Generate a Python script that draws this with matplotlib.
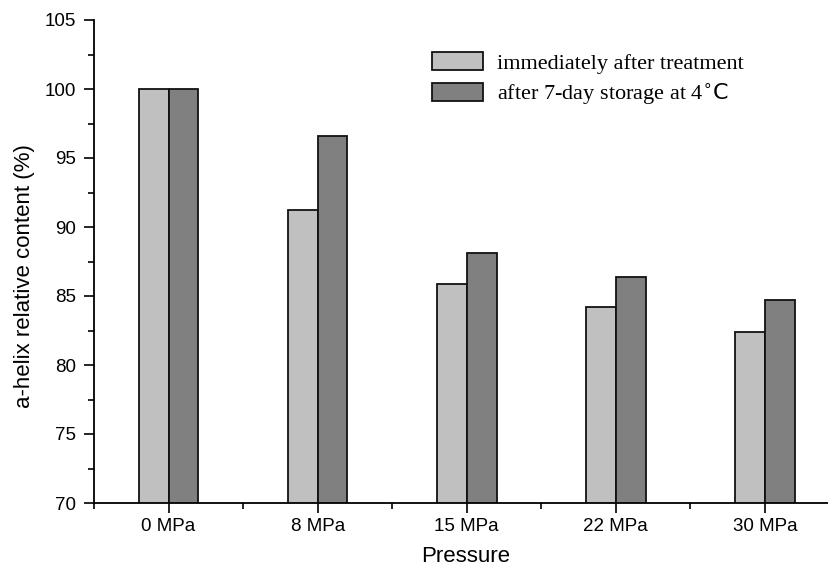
import matplotlib
matplotlib.use("Agg")
import matplotlib.pyplot as plt
import numpy as np
from matplotlib.ticker import MultipleLocator, FixedLocator

categories = ["0 MPa", "8 MPa", "15 MPa", "22 MPa", "30 MPa"]
immediate = [100.0, 91.2, 85.9, 84.2, 82.4]
stored = [100.0, 96.6, 88.1, 86.4, 84.7]
series_labels = ["immediately after treatment", r"after 7-day storage at 4$^{\circ}\mathsf{C}$"]

W, H = 829, 566
fig = plt.figure(figsize=(W / 100, H / 100), dpi=100)
ax = fig.add_axes([94 / W, 1 - 503 / H, 1 - 94 / W, (503 - 20) / H])

x = np.arange(len(categories))
w = 0.2
ax.bar(x - w / 2, immediate, w, color="#c0c0c0", edgecolor="#111111", linewidth=1.3,
       label=series_labels[0])
ax.bar(x + w / 2, stored, w, color="#808080", edgecolor="#111111", linewidth=1.3,
       label=series_labels[1])

ax.set_ylim(70, 105)
ax.set_xlim(-0.5, 4.43)
ax.set_xticks(x)
ax.set_xticklabels(categories, fontfamily="Liberation Sans", fontsize=13.5)
ax.xaxis.set_minor_locator(FixedLocator(np.arange(-0.5, 4.5, 1.0)))
ax.yaxis.set_major_locator(MultipleLocator(5))
ax.yaxis.set_minor_locator(MultipleLocator(2.5))
for lab in ax.get_yticklabels():
    lab.set_fontfamily("Liberation Sans")
    lab.set_fontsize(13.5)
ax.tick_params(which="major", direction="out", length=7, width=1.2, color="black")
ax.tick_params(which="minor", direction="out", length=4, width=1.2, color="black")
ax.tick_params(axis="x", which="major", pad=4)
ax.tick_params(axis="y", which="major", pad=6)

for s in ["top", "right"]:
    ax.spines[s].set_visible(False)
for s in ["left", "bottom"]:
    ax.spines[s].set_linewidth(1.3)

ax.set_ylabel("a-helix relative content (%)", fontfamily="Liberation Sans", fontsize=16)
ax.yaxis.set_label_coords((35 - 94) / (W - 94), 0.47)
ax.set_xlabel("Pressure", fontfamily="Liberation Sans", fontsize=16)
ax.xaxis.set_label_coords(0.506, (503 - 546) / 483)

leg = ax.legend(loc="upper left", bbox_to_anchor=(432 / W, 1 - 52 / H),
                bbox_transform=fig.transFigure, frameon=False,
                borderpad=0, borderaxespad=0,
                prop={"family": "Liberation Serif", "size": 16},
                handlelength=2.3, handleheight=0.85, handletextpad=0.63, labelspacing=0.35)

fig.savefig("out.png", dpi=100)
